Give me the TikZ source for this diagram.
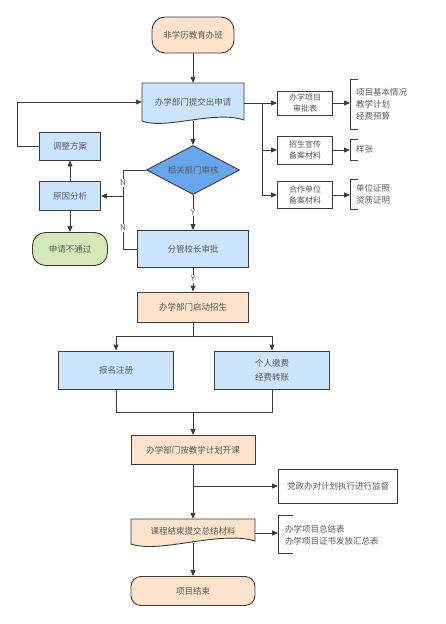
\documentclass[tikz,border=0pt]{standalone}
\usepackage{fontspec}
\setmainfont{Noto Sans CJK SC}
\usetikzlibrary{arrows.meta,shapes.geometric,calc}
\definecolor{peach}{HTML}{FDE3CB}
\definecolor{lblue}{HTML}{CCE5FF}
\definecolor{dblue}{HTML}{66A6EC}
\definecolor{lgreen}{HTML}{D5E8B8}
\definecolor{edge}{HTML}{3C3C3C}
\definecolor{txt}{HTML}{5A5A5A}
\begin{document}
\begin{tikzpicture}[x=1pt,y=-1pt,
  every node/.style={font=\fontsize{8.5}{12}\selectfont, text=txt},
  box/.style={draw=edge, line width=0.9pt, rectangle, inner sep=1pt, align=center},
  pill/.style={box, rounded corners=13pt},
  docbox/.style={rectangle, inner sep=1pt, align=center},
  arr/.style={draw=edge, line width=0.9pt, -{Triangle[length=6pt,width=5pt]}},
  ln/.style={draw=edge, line width=0.9pt},
  yn/.style={fill=white, inner sep=1pt, font=\fontsize{8}{9}\selectfont},
  brk/.style={draw=edge, line width=0.8pt}
]
\useasboundingbox (0,0) rectangle (445,624);

% document shapes
\filldraw[fill=lblue, draw=edge, line width=0.9pt]
  (142,83) -- (244,83) -- (244,120) .. controls (215,110) and (165,130) .. (142,121) -- cycle;
\filldraw[fill=peach, draw=edge, line width=0.9pt]
  (131,519) -- (255,519) -- (255,541) .. controls (220,530) and (160,554) .. (131,544) -- cycle;

% nodes
\node[pill, fill=peach, minimum width=82pt, minimum height=36pt] (start) at (193,35) {非学历教育办班};
\node[docbox, minimum width=102pt, minimum height=38pt] (apply) at (193,102) {办学部门提交出申请};
\node[draw=edge, line width=0.9pt, fill=dblue, diamond, aspect=2, inner sep=0pt, minimum width=93pt, minimum height=49pt] (review) at (193,170) {相关部门审核};
\node[box, fill=lblue, minimum width=61pt, minimum height=28pt] (adjust) at (70,146) {调整方案};
\node[box, fill=lblue, minimum width=61pt, minimum height=29pt] (reason) at (70,196) {原因分析};
\node[pill, fill=lgreen, minimum width=75pt, minimum height=33pt] (reject) at (70,249) {申请不通过};
\node[box, fill=lblue, minimum width=111pt, minimum height=37pt] (vp) at (193,249) {分管校长审批};
\node[box, fill=peach, minimum width=111pt, minimum height=30pt] (recruit) at (193,307) {办学部门启动招生};
\node[box, fill=lblue, minimum width=115pt, minimum height=38pt] (reg) at (116,370) {报名注册};
\node[box, fill=lblue, minimum width=115pt, minimum height=38pt] (pay) at (272,370) {个人缴费\\[2pt]经费转账};
\node[box, fill=peach, minimum width=124pt, minimum height=29pt] (teach) at (193,450) {办学部门按教学计划开课};
\node[box, fill=white, minimum width=119pt, minimum height=34pt] (super) at (338,486) {党政办对计划执行进行监督};
\node[docbox, minimum width=124pt, minimum height=24pt] (endsub) at (193,531) {课程结束提交总结材料};
\node[pill, fill=peach, rounded corners=10pt, minimum width=124pt, minimum height=29pt] (fin) at (193,591) {项目结束};

\node[box, fill=white, minimum width=55pt, minimum height=24pt, font=\fontsize{8}{11}\selectfont] (r1) at (305,103) {办学项目\\审批表};
\node[box, fill=white, minimum width=55pt, minimum height=28pt, font=\fontsize{8}{11}\selectfont] (r2) at (305,150) {招生宣传\\备案材料};
\node[box, fill=white, minimum width=55pt, minimum height=27pt, font=\fontsize{8}{11}\selectfont] (r3) at (305,195) {合作单位\\备案材料};

% brackets
\coordinate (b1) at (350,103);
\coordinate (b2) at (350,150);
\coordinate (b3) at (350,195);
\coordinate (b4) at (278,533);
\draw[brk] (358,79) -- (350,79) -- (350,129) -- (358,129);
\draw[brk] (358,139) -- (350,139) -- (350,160) -- (358,160);
\draw[brk] (358,179) -- (350,179) -- (350,209) -- (358,209);
\draw[brk] (293,515) -- (278,515) -- (278,553) -- (293,553);
\node[anchor=west, align=left, inner sep=0pt] (t1) at (356,104) {项目基本情况\\教学计划\\经费预算};
\node[anchor=west, align=left, inner sep=0pt] (t2) at (356,149) {样张};
\node[anchor=west, align=left, inner sep=0pt] (t3) at (356,194) {单位证照\\资质证明};
\node[anchor=west, align=left, inner sep=0pt] (t4) at (285,535) {办学项目总结表\\办学项目证书发放汇总表};

% connectors
\draw[arr] (start.south) -- (apply.north);
\draw[arr] (apply.south) -- (review.north);
\draw[arr] (review.south) -- node[yn, pos=0.5] {Y} (vp.north);
\coordinate (nj) at (123,196);
\draw[arr] (review.west) -- (123,170) -- node[yn, pos=0.5] {N} (nj) -- (reason.east);
\draw[ln] (vp.west) -- (123,249) -- node[yn, pos=0.4] {N} (nj);
\draw[arr] (reason.north) -- (adjust.south);
\draw[arr] (reason.south) -- (reject.north);
\draw[arr] (adjust.west) -- (17,146) -- (17,102) -- (apply.west);
\draw[arr] (vp.south) -- node[yn, pos=0.45] {Y} (recruit.north);

\coordinate (s1) at (193,336);
\draw[ln] (recruit.south) -- (s1);
\draw[arr] (s1) -| (reg.north);
\draw[arr] (s1) -| (pay.north);
\coordinate (m1) at (193,412);
\draw[ln] (reg.south) |- (m1);
\draw[ln] (pay.south) |- (m1);
\draw[arr] (m1) -- (teach.north);

\coordinate (s2) at (193,486);
\draw[arr] (teach.south) -- (endsub.north);
\draw[arr] (s2) -- (super.west);
\draw[arr] (endsub.south) -- (fin.north);
\draw[arr] (endsub.east |- b4) -- (b4);

\coordinate (s3) at (262,103);
\draw[ln] (apply.east |- s3) -- (s3);
\draw[arr] (s3) -- (r1.west);
\draw[ln] (s3) -- (262,195);
\draw[arr] (262,150) -- (r2.west);
\draw[arr] (262,195) -- (r3.west);
\draw[arr] (r1.east) -- (b1);
\draw[arr] (r2.east) -- (b2);
\draw[arr] (r3.east) -- (b3);
\end{tikzpicture}
\end{document}
